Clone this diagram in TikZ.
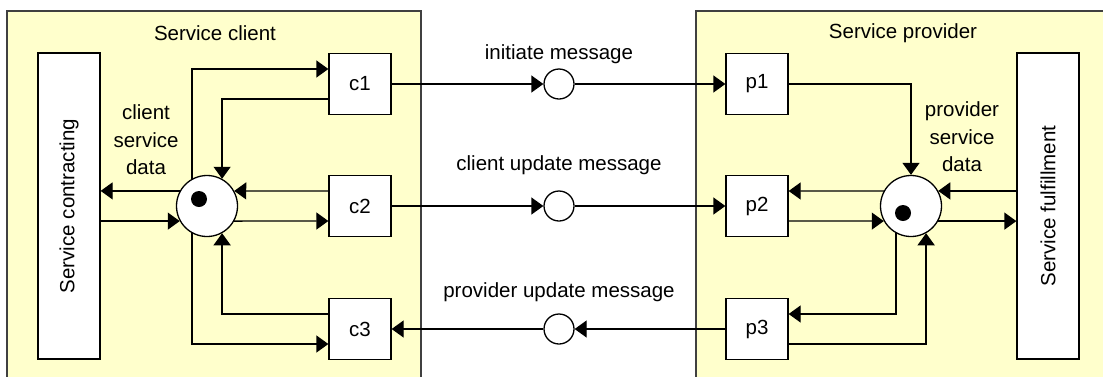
\documentclass[tikz,border=0pt]{standalone}
\usepackage{fontspec}
\setmainfont{Liberation Sans}
\usetikzlibrary{arrows.meta}

\definecolor{areafill}{HTML}{FFFFCC}
\definecolor{arealine}{HTML}{404040}

\tikzset{
  area/.style={draw=arealine,line width=1.5pt,fill=areafill},
  box/.style={draw,line width=1.3pt,fill=white,minimum width=62pt,minimum height=61pt,inner sep=0pt},
  place/.style={circle,draw,line width=1.3pt,fill=white,inner sep=0pt},
  token/.style={circle,fill=black,inner sep=0pt,minimum size=16pt},
  arr/.style={line width=1.3pt,-{Triangle[length=12pt,width=17pt]}},
  lbl/.style={font=\fontsize{20.5}{27.5}\selectfont,align=center}
}

\begin{document}
\begin{tikzpicture}[x=1pt,y=-1pt,every node/.style={font=\fontsize{20.5}{24}\selectfont}]
\clip (0,0) rectangle (1103,376);
\fill[white] (0,0) rectangle (1103,376);
% the two parties
\draw[area] (7,11) rectangle (421,385);
\draw[area] (696,11) rectangle (1115,385);
\node at (215,33) {Service client};
\node at (903,33) {Service provider};

% client side
\node[box,minimum width=62pt,minimum height=306pt] (contract) at (69,206) {};
\node[rotate=90] at (contract) {Service contracting};
\node[box] (c1) at (360,84) {c1};
\node[box] (c2) at (360,206) {c2};
\node[box] (c3) at (360,329) {c3};
\node[place,minimum size=61pt] (cdata) at (207,206) {};
\node[token] at (199,199) {};
\node[lbl] at (146,140) {client\\service\\data};

% provider side
\node[box,minimum width=62pt,minimum height=306pt] (fulfil) at (1048,206) {};
\node[rotate=90] at (fulfil) {Service fulfillment};
\node[box] (p1) at (757,84) {p1};
\node[box] (p2) at (757,206) {p2};
\node[box] (p3) at (757,329) {p3};
\node[place,minimum size=61pt] (pdata) at (911,206) {};
\node[token] at (903,213) {};
\node[lbl] at (962,137) {provider\\service\\data};

% messages
\node[place,minimum size=30pt] (imsg) at (559,84) {};
\node[place,minimum size=30pt] (cmsg) at (559,206) {};
\node[place,minimum size=30pt] (pmsg) at (559,329) {};
\node at (559,54) {initiate message};
\node at (559,165) {client update message};
\node at (559,292) {provider update message};

% client arcs
\draw[arr] (cdata.119) |- ([yshift=15pt]c1.west);
\draw[arr] ([yshift=-15pt]c1.west) -| (cdata.61);
\draw[arr] (cdata.151) -- (contract.east |- cdata.151);
\draw[arr] (contract.east |- cdata.209) -- (cdata.209);
\draw[arr] ([yshift=15pt]c2.west) -- (cdata.29);
\draw[arr] (cdata.331) -- ([yshift=-15pt]c2.west);
\draw[arr] ([yshift=15pt]c3.west) -| (cdata.299);
\draw[arr] (cdata.241) |- ([yshift=-15pt]c3.west);

% provider arcs
\draw[arr] (p1.east) -| (pdata.north);
\draw[arr] (pdata.151) -- ([yshift=15pt]p2.east);
\draw[arr] ([yshift=-15pt]p2.east) -- (pdata.209);
\draw[arr] (pdata.241) |- ([yshift=15pt]p3.east);
\draw[arr] ([yshift=-15pt]p3.east) -| (pdata.299);
\draw[arr] (fulfil.west |- pdata.29) -- (pdata.29);
\draw[arr] (pdata.331) -- (fulfil.west |- pdata.331);

% message arcs
\draw[arr] (c1.east) -- (imsg.west);
\draw[arr] (imsg.east) -- (p1.west);
\draw[arr] (c2.east) -- (cmsg.west);
\draw[arr] (cmsg.east) -- (p2.west);
\draw[arr] (p3.west) -- (pmsg.east);
\draw[arr] (pmsg.west) -- (c3.east);
\end{tikzpicture}
\end{document}
